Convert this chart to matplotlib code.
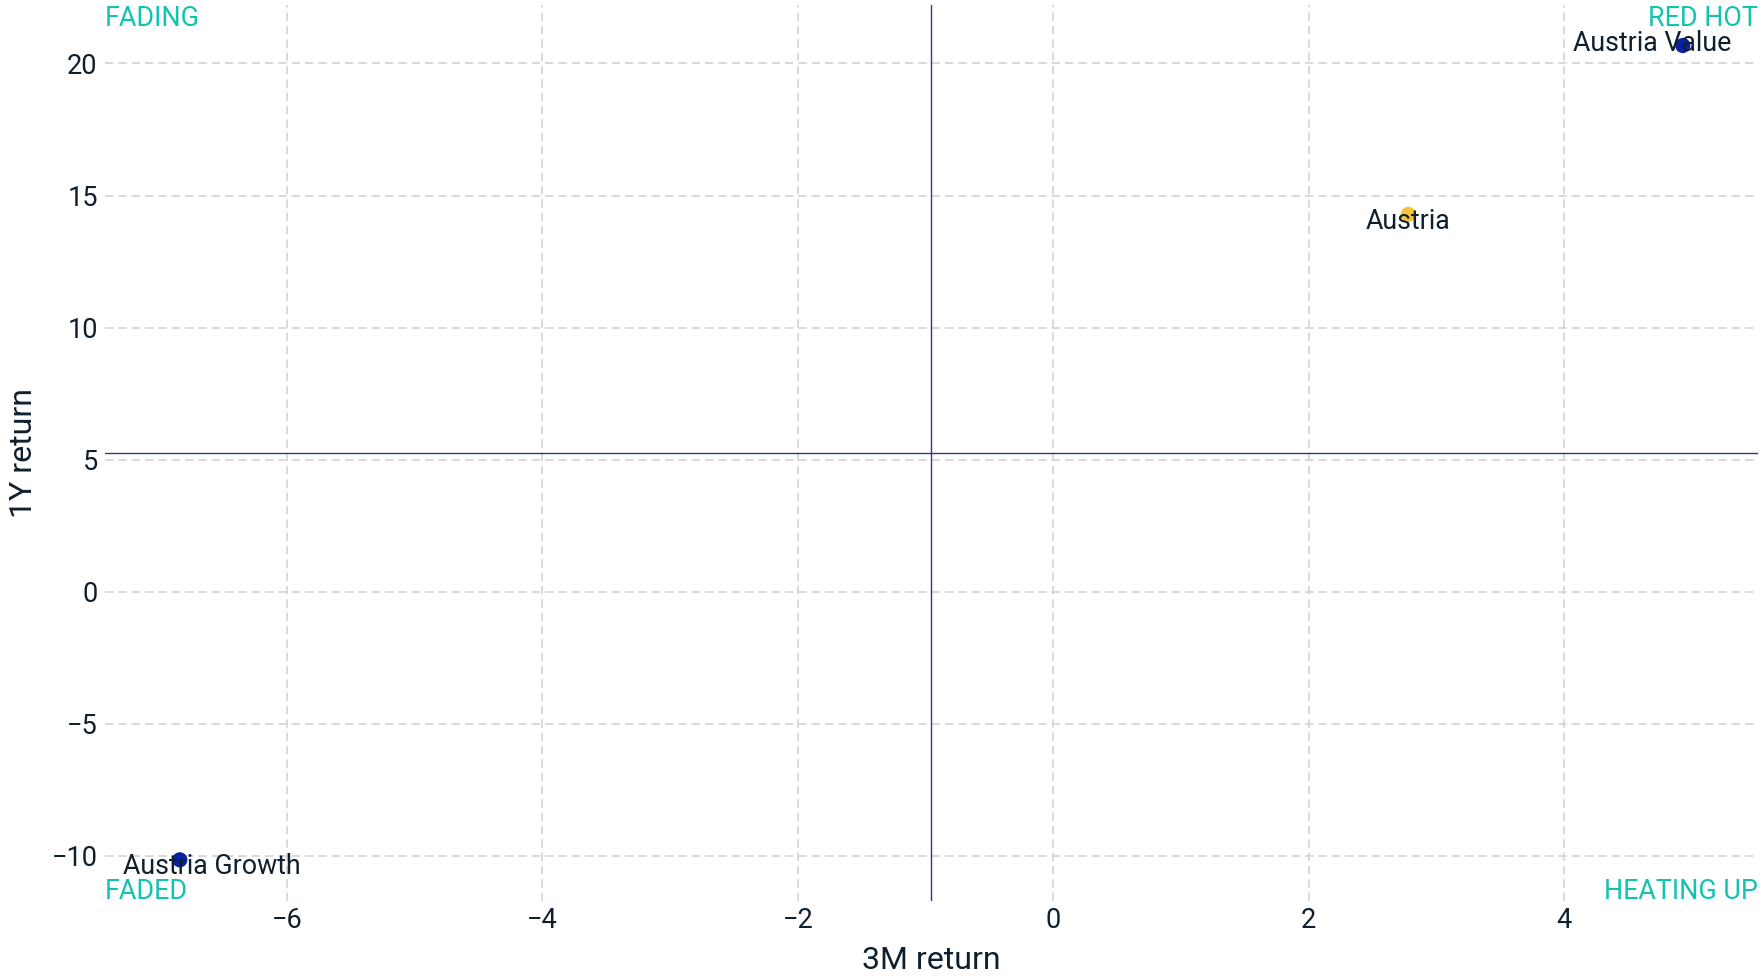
import numpy as np
import matplotlib.pyplot as plt

plt.rcParams['font.family'] = ['Roboto', 'DejaVu Sans']

names = ['Austria', 'Austria Value', 'Austria Growth']
ret_3m = [2.78, 4.93, -6.84]
ret_1y = [14.29, 20.68, -10.15]
colors = ['#F8C53A', '#0A22A0', '#0A22A0']
label_offsets = [(0, -5), (-22, 1.5), (23, -4.5)]

quadrants = ['FADING', 'RED HOT', 'FADED', 'HEATING UP']

text_col = '#0F1F2D'
teal = '#12C3B0'

fig = plt.figure(figsize=(17.65, 9.8), dpi=100)
ax = fig.add_axes([0.0593, 0.0811, 0.9367, 0.914])

ax.scatter(ret_3m, ret_1y, s=120, c=colors, zorder=3, linewidths=0)

for name, x, y, off in zip(names, ret_3m, ret_1y, label_offsets):
    ax.annotate(name, (x, y), xytext=off, textcoords='offset points',
                ha='center', va='center', fontsize=19.3, color=text_col, zorder=4)

ax.margins(0.05)
x0, x1 = ax.get_xlim()
y0, y1 = ax.get_ylim()
ax.axvline((min(ret_3m) + max(ret_3m)) / 2, color='#2B3990', lw=1.0, zorder=2)
ax.axhline((min(ret_1y) + max(ret_1y)) / 2, color='#2B3990', lw=1.0, zorder=2)
ax.set_xlim(x0, x1)
ax.set_ylim(y0, y1)

corners = [((0, 1), 'left', 'top'), ((1, 1), 'right', 'top'),
           ((0, 0), 'left', 'bottom'), ((1, 0), 'right', 'bottom')]
for q, (xy, ha, va) in zip(quadrants, corners):
    dy = -3.5 if va == 'bottom' else 0
    ax.annotate(q, xy, xycoords='axes fraction', xytext=(0, dy),
                textcoords='offset points', ha=ha, va=va,
                fontsize=19.4, color=teal, annotation_clip=False)

ax.set_xticks([-6, -4, -2, 0, 2, 4])
ax.set_yticks([-10, -5, 0, 5, 10, 15, 20])
ax.tick_params(length=0, labelsize=19.5, labelcolor=text_col, pad=5)
ax.grid(True, linestyle=(0, (5, 3)), linewidth=1.2, color='#D3D3D3', zorder=0)
ax.set_axisbelow(True)
for s in ax.spines.values():
    s.set_visible(False)

ax.set_xlabel('3M return', fontsize=23, color=text_col, labelpad=8)
ax.set_ylabel('1Y return', fontsize=23, color=text_col, labelpad=10)

plt.savefig('out.png', dpi=100)
